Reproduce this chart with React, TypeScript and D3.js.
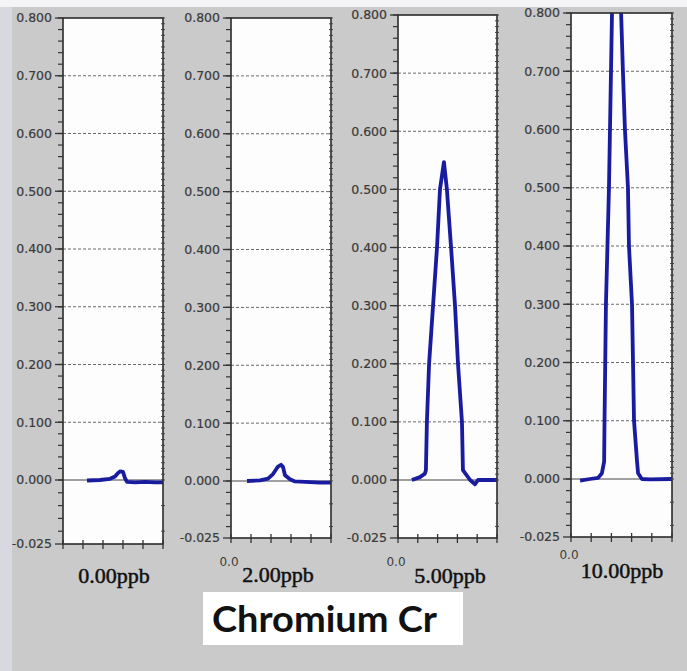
import React from 'react';
import * as d3 from 'd3';

// time axis (s) and intensity ticks
const xTicks = [0, 1, 2, 3, 4, 5];
const yMajor = [0, 0.1, 0.2, 0.3, 0.4, 0.5, 0.6, 0.7, 0.8];
const yLabels = ['0.000', '0.100', '0.200', '0.300', '0.400', '0.500', '0.600', '0.700', '0.800'];
const bottomLabel = '-0.025';
const panelLabels = ['0.00ppb', '2.00ppb', '5.00ppb', '10.00ppb'];
const title = 'Chromium Cr';

// 0.00 ppb
const t0 = [1.2, 1.85, 2.35, 2.6, 2.75, 2.85, 3.0, 3.1, 3.2, 3.6, 4.1, 4.6, 5.0];
const v0 = [-0.0002, 0.0, 0.002, 0.006, 0.012, 0.015, 0.014, 0.003, -0.0007, -0.0009, -0.0007, -0.0009, -0.0009];
// 2.00 ppb
const t2 = [0.8, 1.45, 1.85, 2.1, 2.35, 2.5, 2.6, 2.7, 2.95, 3.2, 3.95, 4.45, 5.0];
const v2 = [0.0, 0.001, 0.004, 0.012, 0.025, 0.028, 0.024, 0.01, 0.003, -0.0002, -0.0005, -0.0007, -0.0007];
// 5.00 ppb
const t5 = [0.7, 1.11, 1.36, 1.41, 1.46, 1.57, 1.77, 1.97, 2.12, 2.32, 2.47, 2.68, 2.88, 3.03, 3.23, 3.28, 3.64, 3.89, 4.04, 5.0];
const v5 = [0.0, 0.005, 0.011, 0.017, 0.1, 0.2, 0.3, 0.4, 0.5, 0.547, 0.5, 0.4, 0.3, 0.2, 0.1, 0.017, 0.0, -0.0018, 0.0, 0.0];
// 10.00 ppb (peak runs off the top)
const t10 = [0.45, 0.94, 1.34, 1.53, 1.64, 1.66, 1.73, 1.88, 1.98, 2.03, 2.16, 2.48, 2.57, 2.67, 2.82, 2.87, 3.02, 3.07, 3.12, 3.27, 3.32, 3.51, 3.91, 5.0];
const v10 = [-0.0007, 0.0, 0.002, 0.01, 0.03, 0.1, 0.3, 0.5, 0.7, 0.8, 1.05, 0.8, 0.7, 0.6, 0.5, 0.4, 0.3, 0.2, 0.1, 0.03, 0.01, 0.0, -0.0002, 0.0];

const series = [
  { t: t0, v: v0 },
  { t: t2, v: v2 },
  { t: t5, v: v5 },
  { t: t10, v: v10 },
];

// panel frames (scanned layout is slightly uneven)
const frames = [
  { left: 63, right: 163, top: 18, zero: 480, bottom: 544, labelX: 114, labelY: 583, zeroLabel: false },
  { left: 231, right: 331, top: 18, zero: 481, bottom: 538, labelX: 278, labelY: 582, zeroLabel: true },
  { left: 398, right: 497, top: 15, zero: 480, bottom: 538, labelX: 450, labelY: 583, zeroLabel: true },
  { left: 571, right: 672, top: 13, zero: 479, bottom: 537, labelX: 622, labelY: 578, zeroLabel: true },
];

const lineColor = '#1a1ca0';

const Panel = ({ i }: { i: number }) => {
  const f = frames[i];
  const s = series[i];
  const x = d3.scaleLinear().domain([0, 5]).range([f.left, f.right]);
  const y = d3.scaleLinear().domain([-0.025, 0, 0.8]).range([f.bottom, f.zero, f.top]);
  const pts = s.t.map((t, k) => [t, s.v[k]] as [number, number]);
  const line = d3.line<[number, number]>().x(d => x(d[0])).y(d => y(d[1]));
  const minor = d3.range(0, 0.8001, 0.02).concat([-0.005, -0.01, -0.015, -0.02]);
  const fine = d3.range(-0.02, 0.8001, 0.01);
  const id = `clip-${i}`;
  return (
    <g>
      <defs>
        <clipPath id={id}>
          <rect x={f.left} y={f.top} width={f.right - f.left} height={f.bottom - f.top} />
        </clipPath>
      </defs>
      <rect x={f.left} y={f.top} width={f.right - f.left} height={f.bottom - f.top} fill="#fdfdfd" />
      {yMajor.slice(1, 8).map(v => (
        <line key={v} x1={f.left} x2={f.right} y1={y(v)} y2={y(v)} stroke="#6a6a6a" strokeDasharray="3 2" />
      ))}
      <line x1={f.left} x2={f.right} y1={y(0)} y2={y(0)} stroke="#444" strokeWidth={1} />
      <path d={line(pts) || ''} fill="none" stroke={lineColor} strokeWidth={3.8} strokeLinejoin="round" clipPath={`url(#${id})`} />
      {/* frame */}
      <rect x={f.left} y={f.top} width={f.right - f.left} height={f.bottom - f.top} fill="none" stroke="#2a2a2a" strokeWidth={1.6} />
      {/* left axis ticks */}
      {minor.map(v => (
        <line key={'m' + v} x1={f.left - 5} x2={f.left} y1={y(v)} y2={y(v)} stroke="#333" strokeWidth={1.2} />
      ))}
      {yMajor.map(v => (
        <line key={'M' + v} x1={f.left - 8} x2={f.left} y1={y(v)} y2={y(v)} stroke="#333" strokeWidth={1.3} />
      ))}
      <line x1={f.left - 8} x2={f.left} y1={y(-0.025)} y2={y(-0.025)} stroke="#333" strokeWidth={1.3} />
      {/* right axis fine ticks */}
      {fine.map(v => (
        <line key={'r' + v} x1={f.right - 2} x2={f.right + 2} y1={y(v)} y2={y(v)} stroke="#444" strokeWidth={1} />
      ))}
      {/* bottom ticks */}
      {xTicks.map(t => (
        <line key={'x' + t} x1={x(t)} x2={x(t)} y1={f.bottom - 4} y2={f.bottom + 5} stroke="#333" strokeWidth={1.3} />
      ))}
      {/* y labels */}
      {yMajor.map((v, k) => (
        <text key={'l' + v} x={f.left - 11} y={y(v)} dy="0.35em" textAnchor="end" fontFamily="DejaVu Sans" fontSize={12.5} fill="#3a3a3a" stroke="#3a3a3a" strokeWidth={0.2}>
          {yLabels[k]}
        </text>
      ))}
      <text x={f.left - 11} y={y(-0.025)} dy="0.35em" textAnchor="end" fontFamily="DejaVu Sans" fontSize={12.5} fill="#3a3a3a" stroke="#3a3a3a" strokeWidth={0.2}>
        {bottomLabel}
      </text>
      {f.zeroLabel && (
        <text x={x(0) - 2} y={f.bottom + 28 - (i === 3 ? 6 : 0)} textAnchor="middle" fontFamily="DejaVu Sans" fontSize={12} fill="#3c3c3c">
          0.0
        </text>
      )}
      <text x={f.labelX} y={f.labelY} textAnchor="middle" fontFamily="Liberation Serif" fontSize={22} fill="#111" stroke="#111" strokeWidth={0.5}>
        {panelLabels[i]}
      </text>
    </g>
  );
};

export default function App() {
  return (
    <svg width={687} height={671} style={{ display: 'block', position: 'absolute', left: 0, top: 0 }}>
      <rect x={0} y={0} width={687} height={671} fill="#cacaca" />
      {frames.map((_, i) => (
        <Panel key={i} i={i} />
      ))}
      <rect x={0} y={0} width={687} height={7} fill="#f4f4f6" />
      <rect x={0} y={7} width={12} height={664} fill="#d8d8e0" />
      <rect x={203} y={592} width={260} height={53} fill="#ffffff" />
      <text x={212} y={632} fontFamily="Lato" fontWeight="bold" fontSize={37} fill="#111" textLength={225} lengthAdjust="spacingAndGlyphs">
        {title}
      </text>
    </svg>
  );
}
